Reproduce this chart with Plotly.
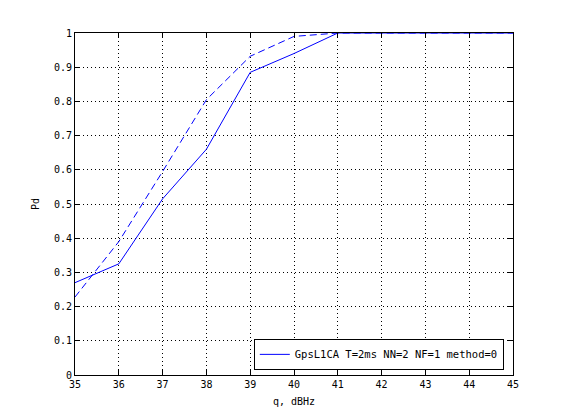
import plotly.graph_objects as go

q = [35, 36, 37, 38, 39, 40, 41, 42, 43, 44, 45]
pd_solid = [0.27, 0.325, 0.515, 0.66, 0.885, 0.94, 1.0, 1.0, 1.0, 1.0, 1.0]
pd_dashed = [0.228, 0.39, 0.595, 0.805, 0.932, 0.99, 1.0, 1.0, 1.0, 1.0, 1.0]
legend_label = "GpsL1CA T=2ms NN=2 NF=1 method=0"
x_ticks = list(range(35, 46))
y_ticks = [i / 10 for i in range(11)]
y_tick_text = ["0"] + [f"{v:.1f}" for v in y_ticks[1:-1]] + ["1"]

FONT = "DejaVu Sans Mono"

fig = go.Figure()
fig.add_trace(go.Scatter(x=q, y=pd_solid, mode="lines", name=legend_label,
                         line=dict(color="#0000ff", width=1)))
fig.add_trace(go.Scatter(x=q, y=pd_dashed, mode="lines", showlegend=False,
                         line=dict(color="#0000ff", width=1, dash="7px,4px")))

axis_common = dict(
    showline=True, linecolor="black", linewidth=1, mirror="ticks",
    ticks="inside", ticklen=5, tickcolor="black", tickwidth=1,
    showgrid=True, gridcolor="black", gridwidth=1, griddash="1px,3px",
    zeroline=False, automargin=False,
    tickfont=dict(family=FONT, size=10, color="black"),
)

fig.update_layout(
    width=554, height=410,
    paper_bgcolor="white", plot_bgcolor="white",
    margin=dict(l=67, r=49, t=25, b=43),
    font=dict(family=FONT, size=10, color="black"),
    xaxis=dict(range=[35, 45], tickvals=x_ticks,
               title=dict(text="q, dBHz", font=dict(family=FONT, size=10), standoff=8),
               **axis_common),
    yaxis=dict(range=[0, 1], tickvals=y_ticks, ticktext=y_tick_text,
               title=dict(text="Pd", font=dict(family=FONT, size=10), standoff=12),
               **axis_common),
    legend=dict(x=0.979, y=0.015, xanchor="right", yanchor="bottom",
                bgcolor="white", bordercolor="black", borderwidth=1,
                font=dict(family=FONT, size=10.5)),
    showlegend=True,
)

fig.write_html("out.html")
